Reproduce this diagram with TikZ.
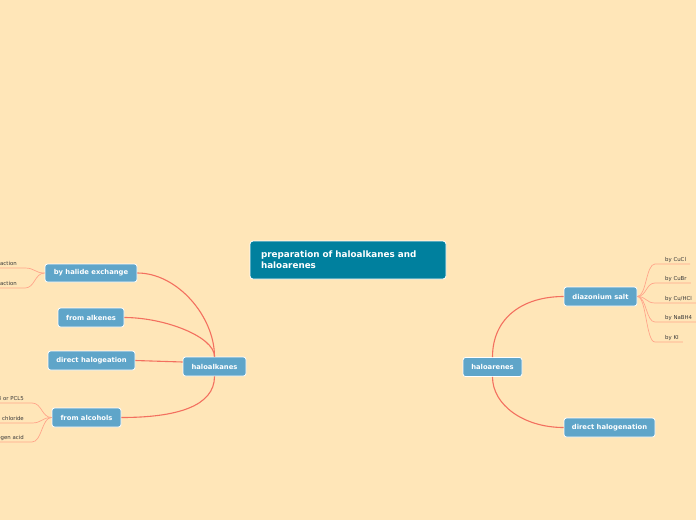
\documentclass[tikz,border=0pt]{standalone}
\usepackage{fontspec}
\setmainfont{DejaVu Sans}
\usetikzlibrary{calc}
\definecolor{bgc}{HTML}{FFE6B8}
\definecolor{nodeblue}{HTML}{5FA5C9}
\definecolor{mainblue}{HTML}{00809E}
\definecolor{connc}{HTML}{F3705F}
\definecolor{leafc}{HTML}{FFA58A}
\definecolor{leaftext}{HTML}{3A3A3A}
\begin{document}
\begin{tikzpicture}[x=1pt,y=-1pt,
  topic/.style={draw=white, line width=0.8pt, fill=nodeblue, rounded corners=2.5pt,
    text=white, font=\fontsize{6.8}{8}\selectfont\bfseries, inner sep=0pt, minimum height=19pt},
  central/.style={draw=white, line width=0.8pt, fill=mainblue, rounded corners=3pt,
    text=white, font=\fontsize{8.8}{11}\selectfont\bfseries, inner sep=0pt,
    minimum width=196pt, minimum height=38pt, text width=174pt, align=left},
  mainconn/.style={draw=connc, line width=1.1pt},
  leafconn/.style={draw=leafc, line width=0.7pt},
  leaf/.style={text=leaftext, font=\fontsize{5.4}{6}\selectfont, inner sep=0pt}]
\useasboundingbox (0,0) rectangle (696,520);
\clip (0,0) rectangle (696,520);
\fill[bgc] (0,0) rectangle (696,520);

% nodes
\node[central] (root) at (348,260) {preparation of haloalkanes and\\haloarenes};
\node[topic, minimum width=63pt] (hk) at (214.5,366.5) {haloalkanes};
\node[topic, minimum width=92pt, minimum height=18pt] (hx) at (91,273) {by halide exchange};
\node[topic, minimum width=66pt] (fa) at (91,317.5) {from alkenes};
\node[topic, minimum width=87pt] (dh) at (91.5,360.5) {direct halogeation};
\node[topic, minimum width=69pt] (fal) at (86.5,417.5) {from alcohols};
\node[topic, minimum width=59pt] (ha) at (492.5,367) {haloarenes};
\node[topic, minimum width=73pt] (ds) at (600.5,296.5) {diazonium salt};
\node[topic, minimum width=91pt] (dhn) at (609.5,427.5) {direct halogenation};

% main connectors
\draw[mainconn] (hk.north) .. controls +(0,-40) and +(40,0) .. (hx.east);
\draw[mainconn] (hk.north) .. controls +(0,-20) and +(40,0) .. (fa.east);
\draw[mainconn] (dh.east) -- ($(hk.west)+(0,-4.5)$);
\draw[mainconn] (hk.south) .. controls +(0,30) and +(55,0) .. (fal.east);
\draw[mainconn] (ha.north) .. controls +(0,-40) and +(-40,0) .. (ds.west);
\draw[mainconn] (ha.south) .. controls +(0,28) and +(-40,0) .. (dhn.west);

% right leaves (diazonium salt)
\node[leaf, anchor=base west] (r1) at (665,261) {by CuCl};
\node[leaf, anchor=base west] (r2) at (665,280) {by CuBr};
\node[leaf, anchor=base west] (r3) at (665,300) {by Cu/HCl};
\node[leaf, anchor=base west] (r4) at (665,319) {by NaBH4};
\node[leaf, anchor=base west] (r5) at (665,339) {by KI};
\coordinate (rc1) at (655,264);
\coordinate (rc2) at (655,283);
\coordinate (rc3) at (655,303);
\coordinate (rc4) at (655,322);
\coordinate (rc5) at (655,342);
\foreach \i in {1,...,5}{
  \draw[leafconn] (ds.east) .. controls +(9,0) and +(-9,0) .. (rc\i) -- ($(rc\i -| r\i.east)+(4,0)$);
}

% left leaves (halide exchange)
\node[leaf, anchor=base east] (l1) at (17,265) {Finkelstein reaction};
\node[leaf, anchor=base east] (l2) at (17,285) {Swarts reaction};
\coordinate (lc1) at (25,268);
\coordinate (lc2) at (25,288);
\foreach \i in {1,2}{
  \draw[leafconn] (hx.west) .. controls +(-10,0) and +(10,0) .. (lc\i) -- ($(lc\i -| l\i.west)+(-4,0)$);
}

% left leaves (alcohols)
\node[leaf, anchor=base east] (a1) at (24,400) {PCL3 or PCL5};
\node[leaf, anchor=base east] (a2) at (24,420) {thionyl chloride};
\node[leaf, anchor=base east] (a3) at (24,439) {halogen acid};
\coordinate (ac1) at (32,403);
\coordinate (ac2) at (32,423);
\coordinate (ac3) at (32,442);
\foreach \i in {1,2,3}{
  \draw[leafconn] (fal.west) .. controls +(-10,0) and +(10,0) .. (ac\i) -- ($(ac\i -| a\i.west)+(-4,0)$);
}
\end{tikzpicture}
\end{document}
